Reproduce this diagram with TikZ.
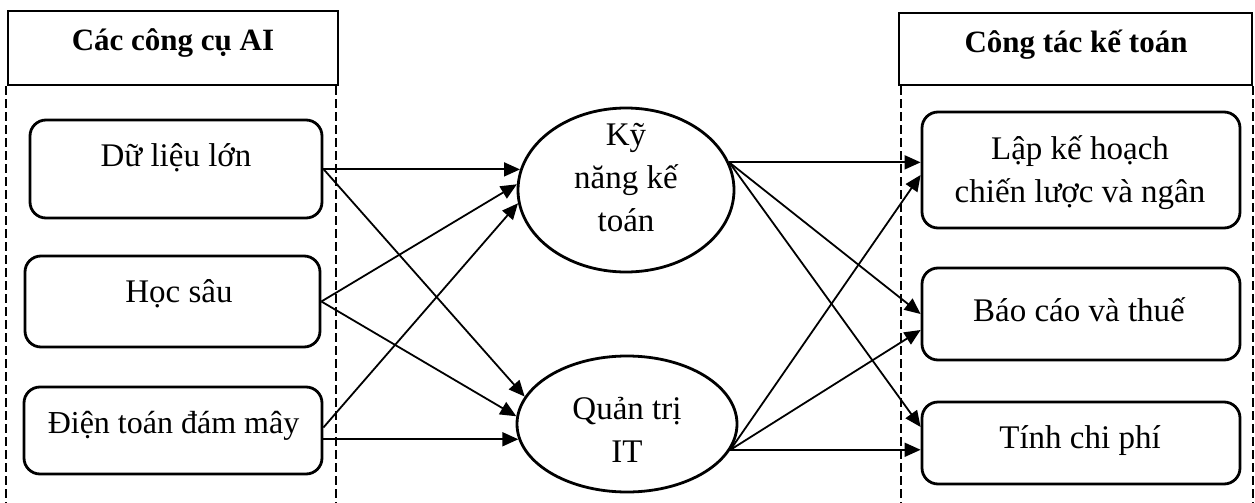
\documentclass[tikz,border=0pt]{standalone}
\usepackage{fontspec}
\setmainfont{Liberation Serif}
\usetikzlibrary{shapes.geometric,arrows.meta,calc}
\begin{document}
\begin{tikzpicture}[x=1pt,y=-1pt,
  every node/.style={font=\fontsize{33}{43}\selectfont},
  hdr/.style={draw,line width=2.2pt,inner sep=0pt},
  hdrtxt/.style={font=\fontsize{31}{41}\selectfont\bfseries,inner sep=0pt},
  box/.style={draw,rounded corners=16pt,line width=2.8pt,inner sep=0pt},
  ell/.style={ellipse,draw,line width=2.8pt,inner sep=0pt},
  txt/.style={align=center,inner sep=0pt},
  arr/.style={-{Triangle[length=16pt,width=14pt]},line width=1.8pt},
  dashline/.style={line width=1.1pt,dash pattern=on 9pt off 4pt}]
\useasboundingbox (0,0) rectangle (1255,503);
% headers
\node[hdr,minimum width=330pt,minimum height=74pt] (hl) at (173,48) {};
\node[hdrtxt] (hlt) at (173,43) {Các công cụ AI};
\node[hdr,minimum width=353pt,minimum height=72pt] (hr) at (1075.5,49) {};
\node[hdrtxt] (hrt) at (1076,45) {Công tác kế toán};
% dashed columns
\draw[dashline] (6,86) -- (6,503);
\draw[dashline] (336,86) -- (336,503);
\draw[dashline] (901,86) -- (901,503);
\draw[dashline] (1253,86) -- (1253,503);
% left boxes
\node[box,minimum width=292pt,minimum height=98pt] (dl) at (176,169) {};
\node[box,minimum width=295pt,minimum height=91pt] (hs) at (172.5,301.5) {};
\node[box,minimum width=298pt,minimum height=87pt] (dt) at (173,430.5) {};
\node[txt] (dlt) at (176,158) {Dữ liệu lớn};
\node[txt] (hst) at (179,294) {Học sâu};
\node[txt,font=\fontsize{32}{42}\selectfont] (dtt) at (173.5,426) {Điện toán đám mây};
% ellipses
\node[ell,minimum width=216pt,minimum height=164pt] (ky) at (626,190) {};
\node[ell,minimum width=220pt,minimum height=136pt] (qt) at (627,424) {};
\node[txt] (kyt) at (626,178) {Kỹ\\năng kế\\toán};
\node[txt] (qtt) at (627,430) {Quản trị\\IT};
% right boxes
\node[box,minimum width=318pt,minimum height=116pt] (lap) at (1081,170) {};
\node[box,minimum width=318pt,minimum height=92pt] (bc) at (1081,314) {};
\node[box,minimum width=318pt,minimum height=82pt] (tin) at (1081,443) {};
\node[txt] (lapt) at (1080,173) {Lập kế hoạch\\chiến lược và ngân};
\node[txt] (bct) at (1079,310) {Báo cáo và thuế};
\node[txt] (tint) at (1080,441) {Tính chi phí};
% left connectors
\draw[arr] (ky.169 -| dl.east) -- (ky.169);
\draw[arr] (dl.east) -- (qt.165);
\draw[arr] (hs.east) -- (ky.177);
\draw[arr] (hs.east) -- (qt.176);
\draw[arr] ([yshift=3pt]dt.east) -- (ky.187);
\draw[arr] (qt.188 -| dt.east) -- (qt.188);
% right connectors
\draw[arr] (ky.15) -- (ky.15 -| lap.west);
\draw[arr] (ky.15) -- (bc.west);
\draw[arr] (ky.15) -- ([yshift=16pt]tin.west);
\draw[arr] (qt.-14) -- ([yshift=-5pt]lap.west);
\draw[arr] (qt.-14) -- ([yshift=-16pt]bc.west);
\draw[arr] (qt.-14) -- (qt.-14 -| tin.west);
\end{tikzpicture}
\end{document}
